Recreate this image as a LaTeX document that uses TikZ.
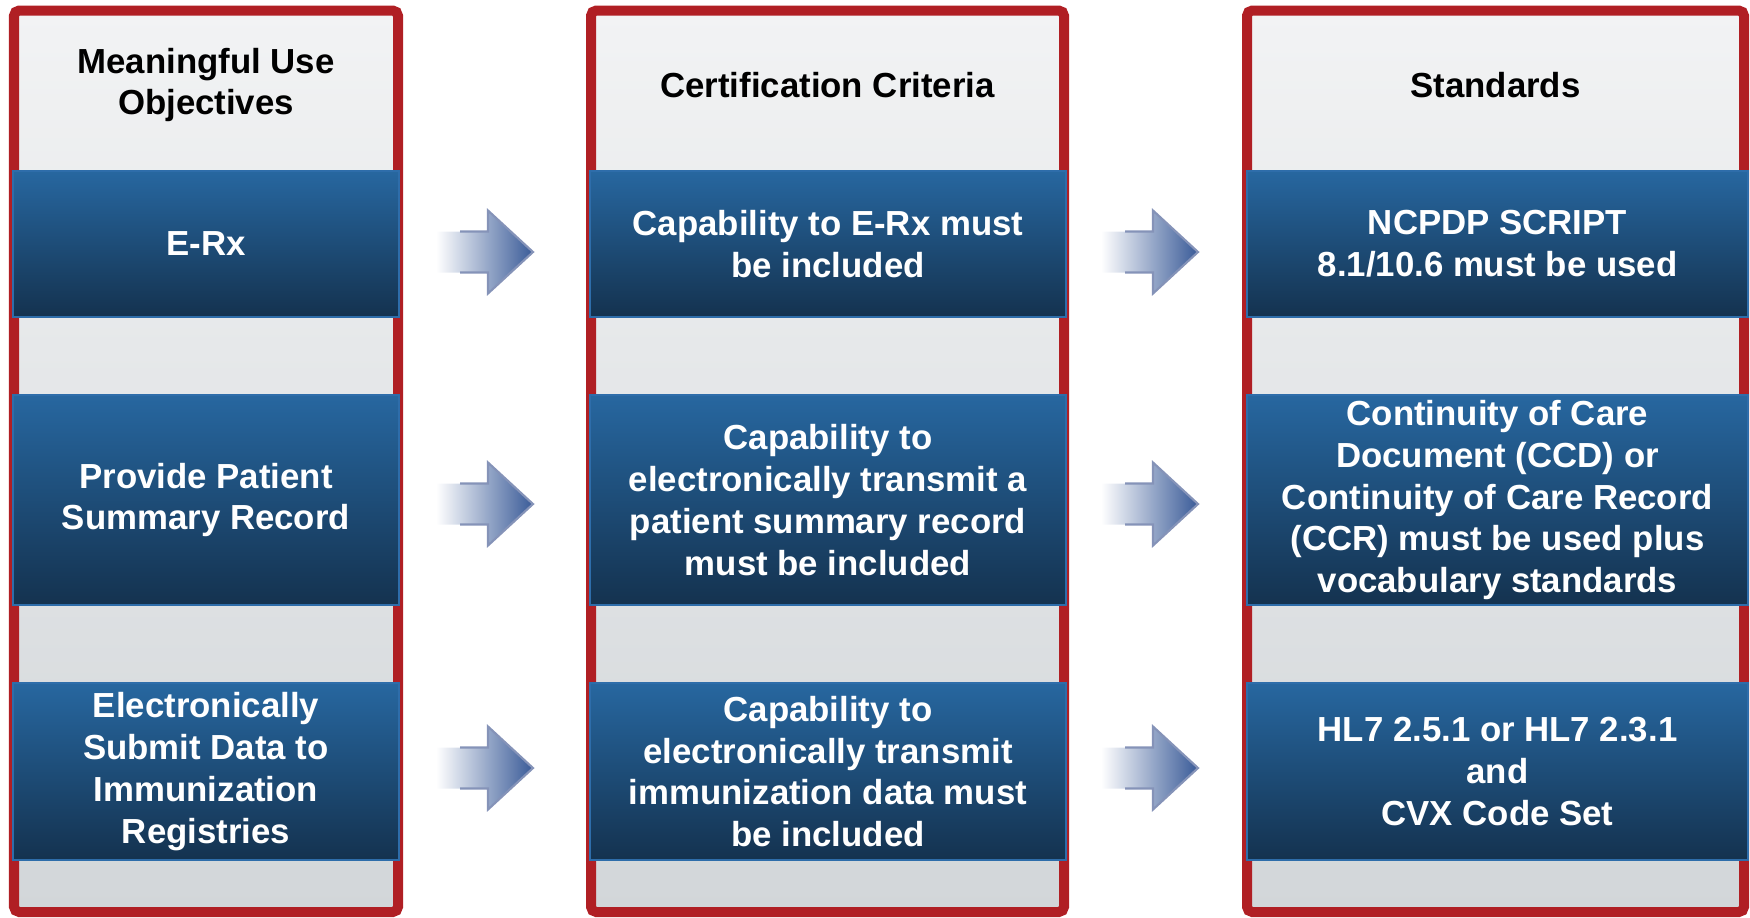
\documentclass[tikz,border=0pt]{standalone}
\usepackage{fontspec}
\setmainfont{Liberation Sans}

\definecolor{framered}{HTML}{B01F24}
\definecolor{boxtop}{HTML}{2767A0}
\definecolor{boxbot}{HTML}{14324F}
\definecolor{boxedge}{HTML}{2E6DAA}
\definecolor{graytop}{HTML}{F2F3F4}
\definecolor{graybot}{HTML}{D2D6D9}
\definecolor{arrowblue}{HTML}{3A5B98}
\definecolor{arrowedge}{HTML}{8593B8}

\tikzset{
  column/.style={draw=framered, line width=0.1cm, rounded corners=1.5pt,
    top color=graytop, bottom color=graybot, minimum height=9.015cm,
    inner sep=0pt},
  heading/.style={align=center, text=black},
  bluebox/.style={draw=boxedge, line width=0.8pt, top color=boxtop,
    bottom color=boxbot, text=white, align=center, inner sep=0pt},
  flowfill/.style={left color=white, right color=arrowblue},
  flowedge/.style={draw=arrowedge, line width=0.6pt, line join=miter}
}

\begin{document}
\begin{tikzpicture}[font=\bfseries\fontsize{9.9}{11.9}\selectfont]
  \useasboundingbox (0,0) rectangle (17.5,-9.17);

  % the three columns
  \node[column, minimum width=3.84cm] (obj) at (2.06,-4.6125) {};
  \node[column, minimum width=4.73cm] (crit) at (8.275,-4.6125) {};
  \node[column, minimum width=4.97cm] (std) at (14.955,-4.6125) {};

  \node[heading] (objHead) at (2.06,-0.85) {Meaningful Use\\Objectives};
  \node[heading] (critHead) at (8.275,-0.85) {Certification Criteria};
  \node[heading] (stdHead) at (14.955,-0.85) {Standards};

  % objectives
  \node[bluebox, minimum width=3.86cm, minimum height=1.46cm] (obj1) at (2.06,-2.44)
    {E-Rx};
  \node[bluebox, minimum width=3.86cm, minimum height=2.10cm] (obj2) at (2.06,-5.00)
    {Provide Patient\\Summary Record};
  \node[bluebox, minimum width=3.86cm, minimum height=1.77cm] (obj3) at (2.06,-7.715)
    {Electronically\\Submit Data to\\Immunization\\Registries};

  % criteria
  \node[bluebox, minimum width=4.76cm, minimum height=1.46cm] (crit1) at (8.28,-2.44)
    {Capability to E-Rx must\\be included};
  \node[bluebox, minimum width=4.76cm, minimum height=2.10cm] (crit2) at (8.28,-5.00)
    {Capability to\\electronically transmit a\\patient summary record\\must be included};
  \node[bluebox, minimum width=4.76cm, minimum height=1.77cm] (crit3) at (8.28,-7.715)
    {Capability to\\electronically transmit\\immunization data must\\be included};

  % standards
  \node[bluebox, minimum width=5.01cm, minimum height=1.46cm] (std1) at (14.975,-2.44)
    {NCPDP SCRIPT\\8.1/10.6 must be used};
  \node[bluebox, minimum width=5.01cm, minimum height=2.10cm] (std2) at (14.975,-5.00)
    {Continuity of Care\\Document (CCD) or\\Continuity of Care Record\\(CCR) must be used plus\\vocabulary standards};
  \node[bluebox, minimum width=5.01cm, minimum height=1.77cm] (std3) at (14.975,-7.715)
    {HL7 2.5.1 or HL7 2.3.1\\and\\CVX Code Set};

  % arrows between the columns (tail points)
  \foreach \y/\r in {-2.52/1, -5.04/2, -7.68/3} {
    \coordinate (arrA\r) at (4.36,\y);
    \coordinate (arrB\r) at (11.01,\y);
    \foreach \a in {arrA\r, arrB\r} {
      \shade[flowfill] (\a) ++(0,0.205) -- ++(0.52,0) -- ++(0,0.21)
        -- ++(0.45,-0.415) -- ++(-0.45,-0.415) -- ++(0,0.21) -- ++(-0.52,0) -- cycle;
      \draw[flowedge] (\a) ++(0.24,0.205) -- ++(0.28,0) -- ++(0,0.21)
        -- ++(0.45,-0.415) -- ++(-0.45,-0.415) -- ++(0,0.21) -- ++(-0.28,0);
    }
  }
\end{tikzpicture}
\end{document}
